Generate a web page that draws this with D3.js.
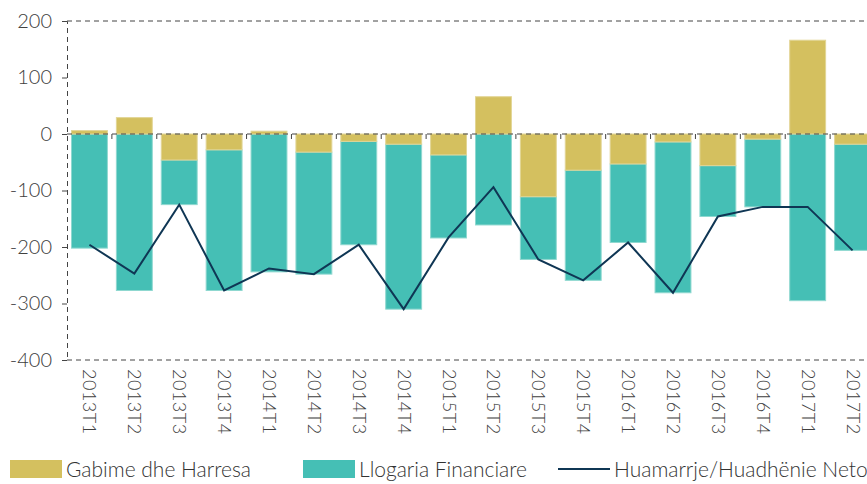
<!DOCTYPE html>
<html>
<head>
<meta charset="utf-8">
<script src="https://cdn.jsdelivr.net/npm/d3@7"></script>
<style>
  body { margin: 0; background: #fff; }
  svg { display: block; font-family: Lato, 'Noto Sans', sans-serif; font-weight: 300; }
  .tick text { fill: #404040; }
</style>
</head>
<body>
<div id="chart"></div>
<script>
const quarters = ['2013T1', '2013T2', '2013T3', '2013T4', '2014T1', '2014T2', '2014T3', '2014T4',
  '2015T1', '2015T2', '2015T3', '2015T4', '2016T1', '2016T2', '2016T3', '2016T4', '2017T1', '2017T2'];
// Gabime dhe Harresa
const errors = [6, 29, -46, -28, 5, -32, -13, -18, -37, 66, -111, -64, -53, -14, -56, -9, 166, -18];
// Llogaria Financiare
const financial = [-202, -277, -79, -249, -244, -216, -183, -292, -147, -161, -111, -195, -139, -267, -90, -120, -295, -188];
// Huamarrje/Huadhënie Neto
const netLending = [-196, -247, -125, -277, -238, -248, -196, -310, -183, -94, -222, -259, -192, -281, -146, -129, -129, -206];
const yTicks = [200, 100, 0, -100, -200, -300, -400];

const W = 867;
const H = 484;
const plotLeft = 67;
const plotTop = 21;
const plotBottom = 360;

const svg = d3.select('#chart')
  .append('svg')
  .attr('width', W)
  .attr('height', H);

const x = d3.scaleBand()
  .domain(quarters)
  .range([plotLeft, 875])
  .paddingInner(0.2)
  .paddingOuter(0.1);

const y = d3.scaleLinear()
  .domain([-400, 200])
  .range([plotBottom, plotTop]);

const colors = { errors: '#D4C05F', financial: '#45BFB5', line: '#0F3654' };

// frame: dashed top / bottom lines
svg.selectAll('.hline')
  .data([200, -400])
  .enter().append('line')
  .attr('x1', plotLeft).attr('x2', W)
  .attr('y1', (d) => y(d)).attr('y2', (d) => y(d))
  .attr('stroke', '#444')
  .attr('stroke-dasharray', '5,4');

// bars: ochre from 0, teal stacked after negative ochre (or from 0 if ochre positive)
const rows = quarters.map((q, i) => {
  const e = errors[i];
  const f = financial[i];
  const fStart = e < 0 ? e : 0;
  return { q, e, f, fStart };
});

svg.selectAll('.fin')
  .data(rows)
  .enter().append('rect')
  .attr('class', 'fin')
  .attr('x', (d) => x(d.q))
  .attr('width', x.bandwidth())
  .attr('y', (d) => y(d.fStart))
  .attr('height', (d) => y(d.fStart + d.f) - y(d.fStart))
  .attr('fill', colors.financial)
  .attr('stroke', '#8fd8d0')
  .attr('stroke-width', 1);

svg.selectAll('.err')
  .data(rows)
  .enter().append('rect')
  .attr('class', 'err')
  .attr('x', (d) => x(d.q))
  .attr('width', x.bandwidth())
  .attr('y', (d) => y(Math.max(0, d.e)))
  .attr('height', (d) => Math.abs(y(d.e) - y(0)))
  .attr('fill', colors.errors)
  .attr('stroke', '#e2d595')
  .attr('stroke-width', 1);

// zero axis with ticks at category boundaries
const zero = svg.append('g');
zero.append('line')
  .attr('x1', plotLeft).attr('x2', W)
  .attr('y1', y(0)).attr('y2', y(0))
  .attr('stroke', '#444')
  .attr('stroke-dasharray', '5,4');
zero.selectAll('.bt')
  .data(d3.range(1, quarters.length))
  .enter().append('line')
  .attr('x1', (i) => x(quarters[i]) - x.step() * x.paddingInner() / 2)
  .attr('x2', (i) => x(quarters[i]) - x.step() * x.paddingInner() / 2)
  .attr('y1', y(0)).attr('y2', y(0) + 5)
  .attr('stroke', '#444');

// line
const line = d3.line()
  .x((d, i) => x(quarters[i]) + x.bandwidth() / 2)
  .y((d) => y(d));

svg.append('path')
  .datum(netLending)
  .attr('d', line)
  .attr('fill', 'none')
  .attr('stroke', colors.line)
  .attr('stroke-width', 2);

// y axis
const yAxis = svg.append('g')
  .attr('transform', `translate(${plotLeft},0)`)
  .call(d3.axisLeft(y).tickValues(yTicks).tickSize(5).tickPadding(10)
    .tickFormat((d) => (d < 0 ? `-${-d}` : `${d}`)));
yAxis.select('.domain')
  .attr('stroke', '#444')
  .attr('stroke-dasharray', '5,4');
yAxis.selectAll('.tick line').attr('stroke', '#444');
yAxis.selectAll('.tick text')
  .style('font-size', '20px')
  .style('font-family', 'Lato, sans-serif')
  .style('font-weight', 300);

// x labels (rotated)
svg.selectAll('.xl')
  .data(quarters)
  .enter().append('text')
  .attr('class', 'xl')
  .attr('transform', (d) => `translate(${x(d) + x.bandwidth() / 2 - 6},${plotBottom + 9}) rotate(90)`)
  .attr('fill', '#404040')
  .style('font-size', '18px')
  .style('letter-spacing', '0.5px')
  .text((d) => d);

// legend
const legendItems = [
  { label: 'Gabime dhe Harresa', type: 'rect', color: colors.errors, x: 10 },
  { label: 'Llogaria Financiare', type: 'rect', color: colors.financial, x: 303 },
  { label: 'Huamarrje/Huadhënie Neto', type: 'line', color: colors.line, x: 558 },
];
const legend = svg.selectAll('.lg')
  .data(legendItems)
  .enter().append('g')
  .attr('transform', (d) => `translate(${d.x},460)`);

legend.filter((d) => d.type === 'rect')
  .append('rect')
  .attr('width', 52)
  .attr('height', 18)
  .attr('fill', (d) => d.color);
legend.filter((d) => d.type === 'line')
  .append('line')
  .attr('x1', 0).attr('x2', 52)
  .attr('y1', 9).attr('y2', 9)
  .attr('stroke', (d) => d.color)
  .attr('stroke-width', 2);
legend.append('text')
  .attr('x', 56)
  .attr('y', 17)
  .attr('fill', '#333')
  .style('font-size', '21px')
  .text((d) => d.label);
</script>
</body>
</html>
